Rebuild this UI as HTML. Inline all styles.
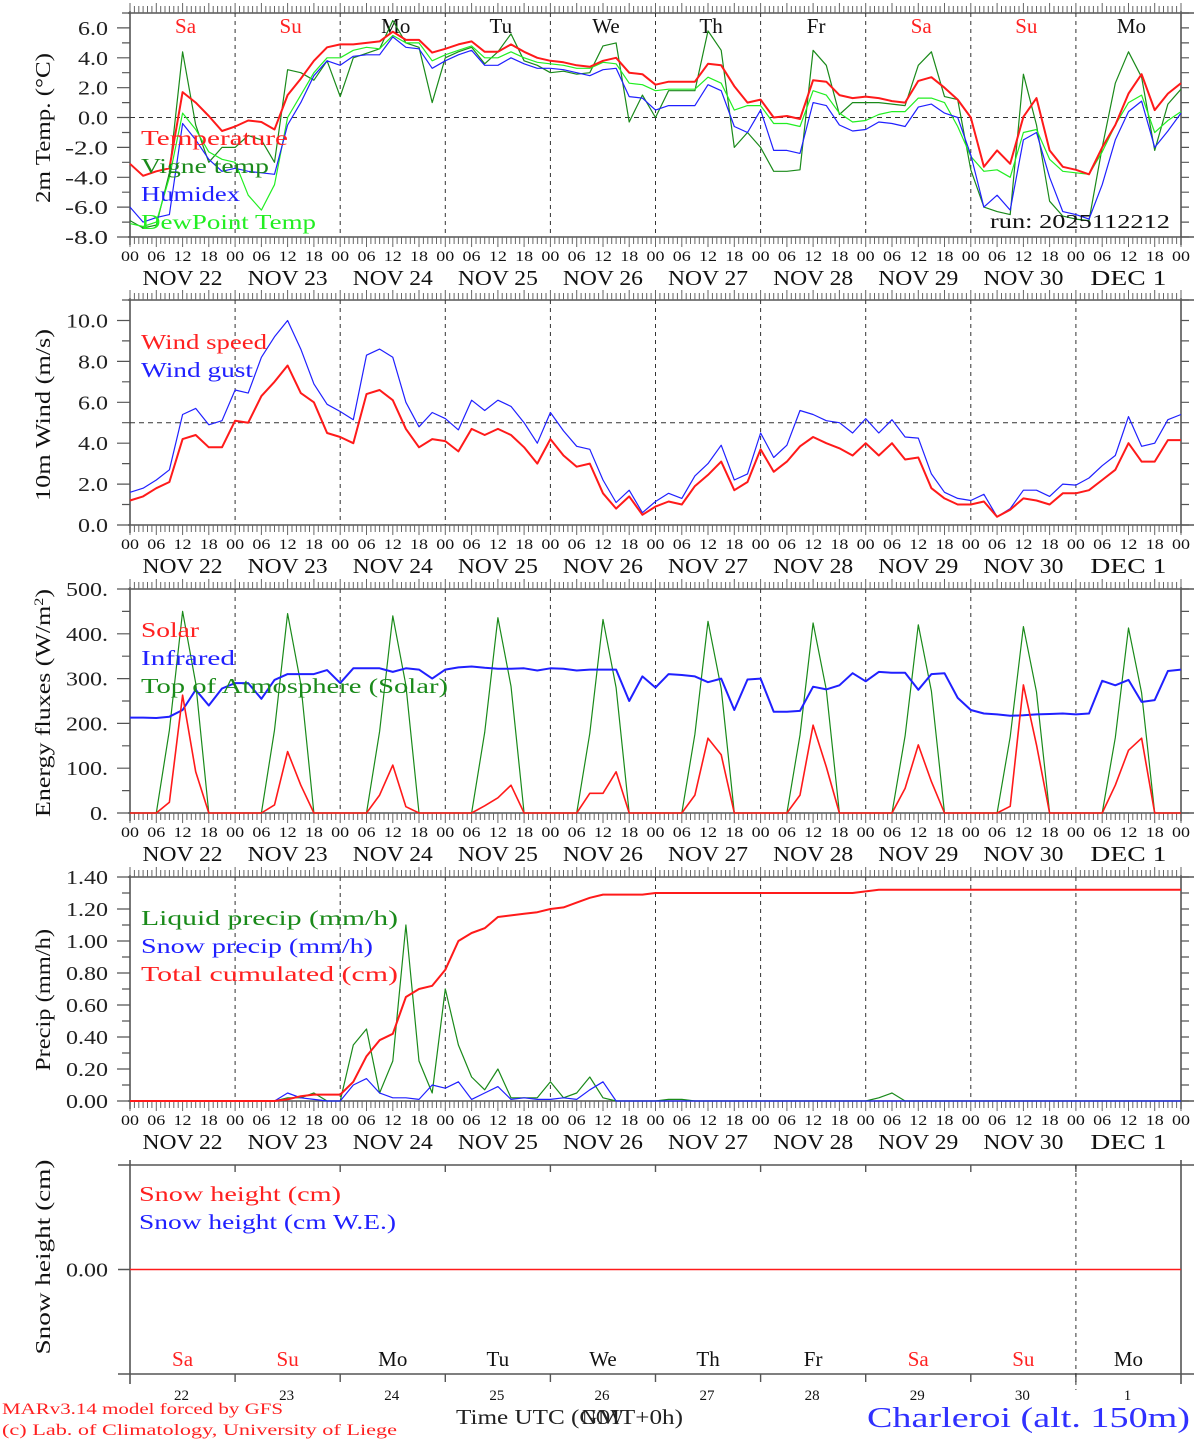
<!DOCTYPE html>
<html><head><meta charset="utf-8"><style>
html,body{margin:0;padding:0;background:#fff;}
svg{display:block;font-family:"Liberation Serif",serif;}
</style></head><body>
<svg id="chart" width="1194" height="1440" viewBox="0 0 1194 1440" xmlns="http://www.w3.org/2000/svg"></svg>
<script>
// ---------- DATA (3-hourly, Nov 22 00UTC .. Dec 2 00UTC) ----------
const dayNames = ["Sa","Su","Mo","Tu","We","Th","Fr","Sa","Su","Mo"];
const dayNums = ["22","23","24","25","26","27","28","29","30","1"];
const dateLabels = ["NOV 22","NOV 23","NOV 24","NOV 25","NOV 26","NOV 27","NOV 28","NOV 29","NOV 30","DEC  1"];
const hourLabels = ["00","06","12","18"];
const tempTicks = ["6.0","4.0","2.0","0.0","-2.0","-4.0","-6.0","-8.0"];
const windTicks = ["10.0","8.0","6.0","4.0","2.0","0.0"];
const energyTicks = ["500.","400.","300.","200.","100.","0."];
const precipTicks = ["1.40","1.20","1.00","0.80","0.60","0.40","0.20","0.00"];

const temperature = [-3.1,-3.9,-3.6,-3.4,1.7,1.0,0.1,-0.9, -0.6,-0.2,-0.3,-0.8,1.5,2.6,3.8,4.7, 4.9,4.9,5.0,5.1,5.75,5.2,5.2,4.35, 4.6,4.9,5.1,4.4,4.4,4.9,4.4,4.0, 3.8,3.7,3.5,3.4,3.8,4.0,3.0,2.9, 2.2,2.4,2.4,2.4,3.6,3.5,2.1,1.0, 1.2,0.0,0.1,-0.1,2.5,2.4,1.5,1.3, 1.4,1.3,1.1,1.0,2.45,2.7,2.0,1.2, 0.0,-3.3,-2.2,-3.1,0.05,1.3,-2.2,-3.3, -3.5,-3.8,-2.0,-0.5,1.6,2.9,0.5,1.6,2.3];
const vigneTemp = [-6.9,-7.4,-7.2,-3.7,4.4,-0.5,-3.0,-2.0, -2.0,-1.2,-1.5,-3.0,3.2,3.0,2.5,3.8, 1.4,4.0,4.3,4.6,6.5,5.0,4.7,1.0, 4.0,4.4,4.7,3.6,4.4,5.6,3.8,3.5, 3.0,3.1,2.9,3.0,4.8,5.0,-0.3,1.5, 0.0,1.8,1.8,1.8,5.8,4.5,-2.0,-1.0, -2.0,-3.6,-3.6,-3.5,4.5,3.5,0.2,1.0, 1.0,1.0,0.9,0.8,3.5,4.4,1.4,1.2, -3.5,-6.0,-6.3,-6.5,2.9,-0.5,-5.6,-6.6, -6.8,-6.9,-2.0,2.3,4.4,2.7,-2.2,0.9,1.9];
const humidex = [-6.0,-7.0,-6.7,-6.5,-0.4,-1.5,-2.8,-3.6, -3.4,-3.6,-3.7,-3.8,-0.5,1.0,2.8,3.8, 3.5,4.1,4.2,4.2,5.4,4.7,4.6,3.3, 3.8,4.2,4.5,3.5,3.5,4.0,3.6,3.3, 3.3,3.2,3.0,2.8,3.2,3.3,1.4,1.3, 0.5,0.8,0.8,0.8,2.2,1.8,-0.6,-1.0, 0.5,-2.2,-2.2,-2.4,1.0,0.8,-0.5,-0.9, -0.8,-0.3,-0.4,-0.6,0.7,0.9,0.3,0.0, -2.5,-6.0,-5.2,-6.2,-1.5,-1.0,-4.0,-6.3, -6.5,-6.8,-4.5,-1.5,0.4,1.1,-2.0,-0.9,0.3];
const dewPoint = [-7.1,-7.3,-7.0,-4.0,0.3,-0.8,-2.3,-2.8, -3.0,-5.2,-6.2,-4.5,0.0,1.5,3.0,4.0, 4.0,4.5,4.7,4.6,5.5,5.0,5.0,3.8, 4.2,4.5,4.8,4.0,4.0,4.4,4.0,3.7, 3.6,3.5,3.3,3.3,3.7,3.6,2.3,2.2, 1.8,1.9,1.9,1.9,2.7,2.3,0.5,0.8, 0.8,-0.4,-0.4,-0.6,1.8,1.5,0.3,-0.3, -0.2,0.2,0.4,0.4,1.3,1.3,1.0,-0.6, -2.6,-3.6,-3.5,-4.0,-1.0,-0.8,-2.8,-3.6, -3.7,-3.8,-2.3,-0.5,1.0,1.5,-1.0,-0.2,0.4];

const windSpeed = [1.2,1.4,1.8,2.1,4.2,4.4,3.8,3.8, 5.1,5.0,6.3,7.0,7.8,6.45,6.0,4.5, 4.3,4.0,6.4,6.6,6.1,4.7,3.8,4.2, 4.1,3.6,4.7,4.4,4.7,4.4,3.8,3.0, 4.2,3.4,2.85,3.0,1.55,0.8,1.4,0.5, 0.9,1.15,1.0,1.9,2.45,3.1,1.7,2.1, 3.7,2.6,3.1,3.85,4.3,4.0,3.75,3.4, 4.0,3.4,4.0,3.2,3.3,1.8,1.3,1.0, 1.0,1.15,0.4,0.75,1.3,1.2,1.0,1.55, 1.55,1.7,2.2,2.7,4.0,3.1,3.1,4.15,4.15];
const windGust = [1.6,1.8,2.2,2.7,5.4,5.7,4.9,5.1, 6.6,6.45,8.2,9.2,10.0,8.6,6.9,5.9, 5.55,5.15,8.3,8.6,8.2,6.0,4.8,5.5, 5.2,4.65,6.1,5.6,6.1,5.8,5.0,4.0, 5.5,4.6,3.85,3.7,2.2,1.1,1.7,0.6, 1.15,1.55,1.3,2.4,3.0,3.9,2.2,2.5, 4.5,3.3,3.9,5.6,5.4,5.1,5.0,4.5, 5.2,4.5,5.15,4.3,4.25,2.5,1.6,1.3, 1.2,1.5,0.4,0.8,1.7,1.7,1.4,2.0, 1.95,2.3,2.9,3.4,5.3,3.85,4.0,5.15,5.4];

const solar = [0,0,0,24,263,92,0,0, 0,0,0,18,137,62,0,0, 0,0,0,40,107,14,0,0, 0,0,0,16,34,62,0,0, 0,0,0,44,44,92,0,0, 0,0,0,40,167,130,0,0, 0,0,0,40,196,103,0,0, 0,0,0,55,152,70,0,0, 0,0,0,15,286,152,0,0, 0,0,0,62,140,167,0,0,0];
const infrared = [213,213,212,215,230,275,240,278, 290,290,255,297,310,310,310,319, 290,323,323,323,315,323,320,300, 320,325,327,324,322,322,323,318, 323,322,318,320,320,320,250,305, 280,310,308,305,292,300,230,298, 300,226,226,228,282,276,285,312, 294,315,313,313,275,310,312,257, 230,222,220,217,218,220,221,222, 220,222,295,285,297,248,252,317,320];
const toaSolar = [0,0,0,185,450,290,0,0, 0,0,0,185,445,288,0,0, 0,0,0,182,440,285,0,0, 0,0,0,180,436,283,0,0, 0,0,0,178,432,280,0,0, 0,0,0,176,428,278,0,0, 0,0,0,174,424,275,0,0, 0,0,0,172,420,272,0,0, 0,0,0,170,416,270,0,0, 0,0,0,168,413,268,0,0,0];

const liquidPrecip = [0,0,0,0,0,0,0,0, 0,0,0,0,0.02,0.02,0.05,0, 0,0.35,0.45,0.05,0.25,1.1,0.25,0.05, 0.7,0.35,0.15,0.07,0.2,0.02,0.02,0.02, 0.12,0.02,0.05,0.15,0.02,0,0,0, 0,0.01,0.01,0,0,0,0,0, 0,0,0,0,0,0,0,0, 0,0.02,0.05,0,0,0,0,0, 0,0,0,0,0,0,0,0, 0,0,0,0,0,0,0,0,0];
const snowPrecip = [0,0,0,0,0,0,0,0, 0,0,0,0,0.05,0.02,0.01,0, 0,0.1,0.14,0.05,0.02,0.02,0.01,0.1, 0.08,0.12,0.01,0.05,0.09,0.01,0.02,0.01, 0.01,0.02,0.01,0.07,0.12,0,0,0, 0,0,0,0,0,0,0,0, 0,0,0,0,0,0,0,0, 0,0,0,0,0,0,0,0, 0,0,0,0,0,0,0,0, 0,0,0,0,0,0,0,0,0];
const totalCumul = [0,0,0,0,0,0,0,0, 0,0,0,0,0.01,0.03,0.04,0.04, 0.04,0.12,0.28,0.38,0.42,0.65,0.70,0.72, 0.82,1.0,1.05,1.08,1.15,1.16,1.17,1.18, 1.2,1.21,1.24,1.27,1.29,1.29,1.29,1.29, 1.30,1.30,1.30,1.30,1.30,1.30,1.30,1.30, 1.30,1.30,1.30,1.30,1.30,1.30,1.30,1.30, 1.31,1.32,1.32,1.32,1.32,1.32,1.32,1.32, 1.32,1.32,1.32,1.32,1.32,1.32,1.32,1.32, 1.32,1.32,1.32,1.32,1.32,1.32,1.32,1.32,1.32];
const snowHeight = [0,0,0,0,0,0,0,0, 0,0,0,0,0,0,0,0, 0,0,0,0,0,0,0,0, 0,0,0,0,0,0,0,0, 0,0,0,0,0,0,0,0, 0,0,0,0,0,0,0,0, 0,0,0,0,0,0,0,0, 0,0,0,0,0,0,0,0, 0,0,0,0,0,0,0,0, 0,0,0,0,0,0,0,0,0];

// ---------- DRAWING ----------
const NS = "http://www.w3.org/2000/svg";
const svg = document.getElementById("chart");
const X0 = 130, X1 = 1181, HOURS = 240, STEP = 3;
function xOf(h){ return X0 + h * (X1 - X0) / HOURS; }
function el(tag, attrs, parent){
  const e = document.createElementNS(NS, tag);
  for (const k in attrs) e.setAttribute(k, attrs[k]);
  (parent || svg).appendChild(e);
  return e;
}
function txt(x, y, s, size, fill, anchor, parent, extra){
  const t = el("text", Object.assign({x:x, y:y, "font-size":size, fill:fill, "text-anchor":anchor||"start"}, extra||{}), parent);
  t.textContent = s;
  return t;
}
function labelWidth(s){
  let w = 0;
  for (const c of s){ w += (c === ".") ? 6 : (c === "-" ? 13 : 12); }
  return w;
}
const FRAME = "#555";

function makePanel(name, top, bottom, vmin, vmax){
  const g = el("g", {});
  
  
  const yOf = v => bottom - (v - vmin) * (bottom - top) / (vmax - vmin);
  return {g, top, bottom, yOf};
}
function frame(p, opts){
  const g = p.g;
  const f = el("g", {}, g);
  
  
  el("line", {x1:X0-2, y1:p.top, x2:1194, y2:p.top, stroke:FRAME, "stroke-width":1.6}, f);
  el("line", {x1:X0-2, y1:p.bottom, x2:1194, y2:p.bottom, stroke:FRAME, "stroke-width":1.6}, f);
  el("line", {x1:X0, y1:p.top-2, x2:X0, y2:p.bottom+8, stroke:FRAME, "stroke-width":1.6}, f);
  el("line", {x1:X1, y1:p.top-2, x2:X1, y2:p.bottom+8, stroke:FRAME, "stroke-width":1.6}, f);
  if (opts.hourly){
    let d = "";
    for (let h = 0; h <= HOURS; h++){
      const x = xOf(h).toFixed(1);
      const L = (h % 6 === 0) ? 10 : 7;
      d += `M${x},${p.top-L}V${p.top}M${x},${p.bottom}V${p.bottom+L}`;
    }
    el("path", {d:d, stroke:"#666", "stroke-width":1, fill:"none"}, f);
    for (let day = 1; day < 10; day++){
      const x = xOf(day*24);
      el("line", {x1:x, y1:p.top, x2:x, y2:p.bottom, stroke:"#333", "stroke-width":1, "stroke-dasharray":"4,4"}, f);
    }
  }
}
function yAxis(p, labels, vals, minorStep, vmin, vmax, fmtName){
  const g = el("g", {}, p.g);
  
  
  let d = "";
  for (let v = vmin; v <= vmax + 1e-9; v += minorStep){
    const y = p.yOf(v).toFixed(1);
    d += `M${X0-8},${y}H${X0}M${X1},${y}H${X1+8}`;
  }
  labels.forEach((s, i) => {
    const y = p.yOf(vals[i]);
    d += `M${X0-13},${y.toFixed(1)}H${X0}`;
    txt(X0-22, y+7, s, 20, "#222", "end", g, {textLength:labelWidth(s), lengthAdjust:"spacingAndGlyphs"});
  });
  el("path", {d:d, stroke:"#555", "stroke-width":1.2, fill:"none"}, g);
}
function xLabels(p){
  const g = el("g", {}, p.g);
  
  
  for (let day = 0; day <= 10; day++){
    for (let k = 0; k < 4; k++){
      const h = day*24 + k*6;
      if (h > HOURS) break;
      txt(xOf(h), p.bottom+24, hourLabels[k], 15, "#111", "middle", g, {textLength:18, lengthAdjust:"spacingAndGlyphs"});
    }
  }
  dateLabels.forEach((s, i) => {
    txt(xOf(i*24+12), p.bottom+48, s, 21, "#111", "middle", g, {"xml:space":"preserve", textLength:(i===9?76:80), lengthAdjust:"spacingAndGlyphs"});
  });
}
function series(p, arr, color, width, name){
  let d = "";
  arr.forEach((v, i) => {
    d += (i ? "L" : "M") + xOf(i*STEP).toFixed(1) + "," + p.yOf(v).toFixed(1);
  });
  const path = el("path", {d:d, stroke:color, "stroke-width":width, fill:"none", "stroke-linejoin":"round"}, p.g);
  
  
}
function legend(p, x, y, s, color, w, name){
  const t = txt(x, y, s, 21, color, "start", p.g, {textLength:w, lengthAdjust:"spacingAndGlyphs"});
  
  
}
function yTitle(p, cx, cy, s, len, name){
  const t = txt(0, 0, s, 21, "#111", "middle", p.g, {transform:`translate(${cx},${cy}) rotate(-90)`, textLength:len, lengthAdjust:"spacingAndGlyphs"});
  
  
  return t;
}

// Panel 1: temperature
const p1 = makePanel("temperature-panel", 13, 237, -8, 7);
frame(p1, {hourly:true});
el("line", {x1:X0, y1:p1.yOf(0), x2:X1, y2:p1.yOf(0), stroke:"#333", "stroke-width":1, "stroke-dasharray":"5,4"}, p1.g);
yAxis(p1, tempTicks, [6,4,2,0,-2,-4,-6,-8], 1, -8, 7, "temp-y-axis");
xLabels(p1);
dayNames.forEach((s, i) => {
  const t = txt(xOf(i*24+12)+3, 33, s, 21, (s==="Sa"||s==="Su") ? "#f22" : "#111", "middle", p1.g);
  
  
});
series(p1, vigneTemp, "#1a8a1a", 1.2, "vigne-temp-line");
series(p1, dewPoint, "#22ee22", 1.2, "dewpoint-line");
series(p1, humidex, "#2020ff", 1.2, "humidex-line");
series(p1, temperature, "#ff1a1a", 2, "temperature-line");
legend(p1, 141, 145, "Temperature", "#ff2020", 147, "legend-temperature");
legend(p1, 141, 173, "Vigne temp", "#1a8a1a", 128, "legend-vigne-temp");
legend(p1, 141, 201, "Humidex", "#2020ff", 99, "legend-humidex");
legend(p1, 141, 229, "DewPoint Temp", "#22ee22", 175, "legend-dewpoint");
yTitle(p1, 50, 128, "2m Temp. (\u00B0C)", 150, "temp-y-title");
{ const t = txt(990, 228, "run: 2025112212", 20, "#111", "start", p1.g, {textLength:180, lengthAdjust:"spacingAndGlyphs"});
  
   }

// Panel 2: wind
const p2 = makePanel("wind-panel", 300, 525, 0, 11);
frame(p2, {hourly:true});
el("line", {x1:X0, y1:p2.yOf(5), x2:X1, y2:p2.yOf(5), stroke:"#333", "stroke-width":1, "stroke-dasharray":"5,4"}, p2.g);
yAxis(p2, windTicks, [10,8,6,4,2,0], 1, 0, 11, "wind-y-axis");
xLabels(p2);
series(p2, windGust, "#2020ff", 1.2, "wind-gust-line");
series(p2, windSpeed, "#ff1a1a", 2, "wind-speed-line");
legend(p2, 141, 349, "Wind speed", "#ff2020", 126, "legend-wind-speed");
legend(p2, 141, 377, "Wind gust", "#2020ff", 112, "legend-wind-gust");
yTitle(p2, 50, 415, "10m Wind (m/s)", 172, "wind-y-title");

// Panel 3: energy
const p3 = makePanel("energy-panel", 589, 813, 0, 500);
frame(p3, {hourly:true});
yAxis(p3, energyTicks, [500,400,300,200,100,0], 50, 0, 500, "energy-y-axis");
xLabels(p3);
series(p3, toaSolar, "#1a8a1a", 1.2, "toa-solar-line");
series(p3, infrared, "#2020ff", 2, "infrared-line");
series(p3, solar, "#ff1a1a", 1.6, "solar-line");
legend(p3, 141, 637, "Solar", "#ff2020", 58, "legend-solar");
legend(p3, 141, 665, "Infrared", "#2020ff", 94, "legend-infrared");
legend(p3, 141, 693, "Top of Atmosphere (Solar)", "#1a8a1a", 307, "legend-toa");
{ const t = txt(0, 0, "", 21, "#111", "middle", p3.g, {transform:"translate(50,703) rotate(-90)", textLength:228, lengthAdjust:"spacingAndGlyphs"});
  
  
  t.innerHTML = 'Energy fluxes (W/m<tspan dy="-7" font-size="13">2</tspan><tspan dy="7">)</tspan>'; }

// Panel 4: precip
const p4 = makePanel("precip-panel", 877, 1101, 0, 1.4);
frame(p4, {hourly:true});
yAxis(p4, precipTicks, [1.4,1.2,1.0,0.8,0.6,0.4,0.2,0], 0.1, 0, 1.4, "precip-y-axis");
xLabels(p4);
series(p4, liquidPrecip, "#1a8a1a", 1.2, "liquid-precip-line");
series(p4, snowPrecip, "#2020ff", 1.2, "snow-precip-line");
series(p4, totalCumul, "#ff1a1a", 2, "total-cumulated-line");
legend(p4, 141, 925, "Liquid precip (mm/h)", "#1a8a1a", 257, "legend-liquid-precip");
legend(p4, 141, 953, "Snow precip (mm/h)", "#2020ff", 232, "legend-snow-precip");
legend(p4, 141, 981, "Total cumulated (cm)", "#ff2020", 257, "legend-total-cumulated");
yTitle(p4, 50, 1000, "Precip (mm/h)", 142, "precip-y-title");

// Panel 5: snow height
const p5 = makePanel("snow-panel", 1165, 1374, -1, 1);
{
  const g = el("g", {}, p5.g);
  
  
  el("line", {x1:118, y1:1165, x2:1194, y2:1165, stroke:FRAME, "stroke-width":1.6}, g);
  el("line", {x1:118, y1:1374, x2:1194, y2:1374, stroke:FRAME, "stroke-width":1.6}, g);
  el("line", {x1:X0, y1:1160, x2:X0, y2:1384, stroke:FRAME, "stroke-width":1.6}, g);
  el("line", {x1:X1, y1:1160, x2:X1, y2:1384, stroke:FRAME, "stroke-width":1.6}, g);
  let d = "";
  for (let day = 1; day < 10; day++){
    const x = xOf(day*24).toFixed(1);
    d += `M${x},1165V1172M${x},1374V1382`;
  }
  d += `M118,${p5.yOf(0)}H${X0}`;
  el("path", {d:d, stroke:"#555", "stroke-width":1.4, fill:"none"}, g);
  el("line", {x1:xOf(216), y1:1165, x2:xOf(216), y2:1390, stroke:"#333", "stroke-width":1, "stroke-dasharray":"4,4"}, g);
  txt(X0-22, p5.yOf(0)+7, "0.00", 20, "#222", "end", g, {textLength:labelWidth("0.00"), lengthAdjust:"spacingAndGlyphs"});
}
series(p5, snowHeight, "#ff1a1a", 1.6, "snow-height-line");
legend(p5, 139, 1201, "Snow height (cm)", "#ff2020", 202, "legend-snow-height");
legend(p5, 139, 1229, "Snow height (cm W.E.)", "#2020ff", 257, "legend-snow-we");
yTitle(p5, 50, 1257, "Snow height (cm)", 195, "snow-y-title");
dayNames.forEach((s, i) => {
  const t = txt(xOf(i*24+12), 1366, s, 21, (s==="Sa"||s==="Su") ? "#f22" : "#111", "middle", p5.g);
  
  
});
dayNums.forEach((s, i) => {
  const t = txt(xOf(i*24+12)-1, 1400, s, 15, "#111", "middle", p5.g);
  
  
});

// footer
{
  const g = el("g", {});
  
  
  let t = txt(2, 1414, "MARv3.14 model forced by GFS", 16, "#ff2020", "start", g, {textLength:281, lengthAdjust:"spacingAndGlyphs"});
  
  
  t = txt(2, 1435, "(c) Lab. of Climatology, University of Liege", 16, "#ff2020", "start", g, {textLength:395, lengthAdjust:"spacingAndGlyphs"});
  
  
  t = txt(456, 1424, "Time UTC (GMT+0h)", 21, "#222", "start", g, {textLength:227, lengthAdjust:"spacingAndGlyphs"});
  
  
  t = txt(582, 1424, "NOV", 21, "#222", "start", g, {textLength:42, lengthAdjust:"spacingAndGlyphs"});
  
  
  t = txt(867, 1427, "Charleroi (alt. 150m)", 28, "#3030ff", "start", g, {textLength:323, lengthAdjust:"spacingAndGlyphs"});
  
  
}
</script>
</body></html>
